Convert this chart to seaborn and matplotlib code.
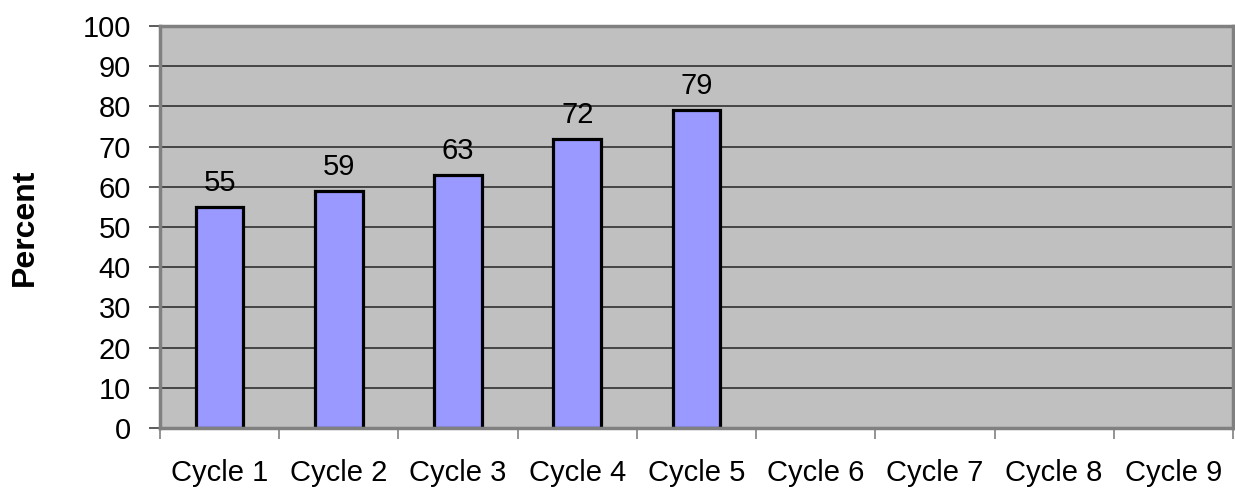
import numpy as np
import pandas as pd
import matplotlib
matplotlib.use("Agg")
import matplotlib.pyplot as plt
import seaborn as sns
from matplotlib.ticker import MultipleLocator, FixedLocator, NullFormatter

categories = ["Cycle 1", "Cycle 2", "Cycle 3", "Cycle 4", "Cycle 5",
              "Cycle 6", "Cycle 7", "Cycle 8", "Cycle 9"]
values = [55, 59, 63, 72, 79, np.nan, np.nan, np.nan, np.nan]
y_label = "Percent"

sns.set_style("white")
plt.rcParams["font.family"] = ["Liberation Sans", "DejaVu Sans"]
plt.rcParams["text.color"] = "black"
plt.rcParams["xtick.color"] = "black"
plt.rcParams["ytick.color"] = "black"
plt.rcParams["axes.labelcolor"] = "black"

df = pd.DataFrame({"cycle": categories, "percent": values})

fig = plt.figure(figsize=(12.35, 4.95), dpi=100)
ax = fig.add_axes([160/1235, 67/495, 1073/1235, 402/495])
ax.set_facecolor("#C0C0C0")

sns.barplot(data=df, x="cycle", y="percent", order=categories, ax=ax,
            color="#9999FF", saturation=1, width=0.40,
            edgecolor="black", linewidth=2.3, zorder=3)

for i, v in enumerate(values):
    if not np.isnan(v):
        ax.text(i, v + 2.5, f"{v:g}", ha="center", va="bottom",
                fontsize=21, color="black", zorder=4)

ax.set_xlim(-0.5, len(categories) - 0.5)
ax.set_ylim(0, 100)
ax.yaxis.set_major_locator(MultipleLocator(10))
ax.grid(axis="y", color="#303030", linewidth=1.2, zorder=0)
ax.set_axisbelow(True)

# tick marks between categories
ax.xaxis.set_minor_locator(FixedLocator(np.arange(-0.5, len(categories), 1.0)))
ax.xaxis.set_minor_formatter(NullFormatter())
ax.tick_params(axis="x", which="major", length=0, pad=22, labelsize=21,
               labelcolor="black")
ax.tick_params(axis="x", which="minor", length=8, width=1.2, color="#808080",
               direction="out", bottom=True)
ax.tick_params(axis="y", which="major", length=8, width=1.2, color="#404040",
               direction="out", left=True, labelsize=21, pad=13,
               labelcolor="black")

for s in ["left", "bottom", "top", "right"]:
    ax.spines[s].set_visible(True)
    ax.spines[s].set_color("#808080")
    ax.spines[s].set_linewidth(2.5)
    ax.spines[s].set_zorder(5)

ax.set_xlabel("")
ax.set_ylabel(y_label, fontsize=23, fontweight="bold", color="black",
              va="center")
ax.yaxis.set_label_coords(-0.126, 0.5)

fig.savefig("out.png", dpi=100)
